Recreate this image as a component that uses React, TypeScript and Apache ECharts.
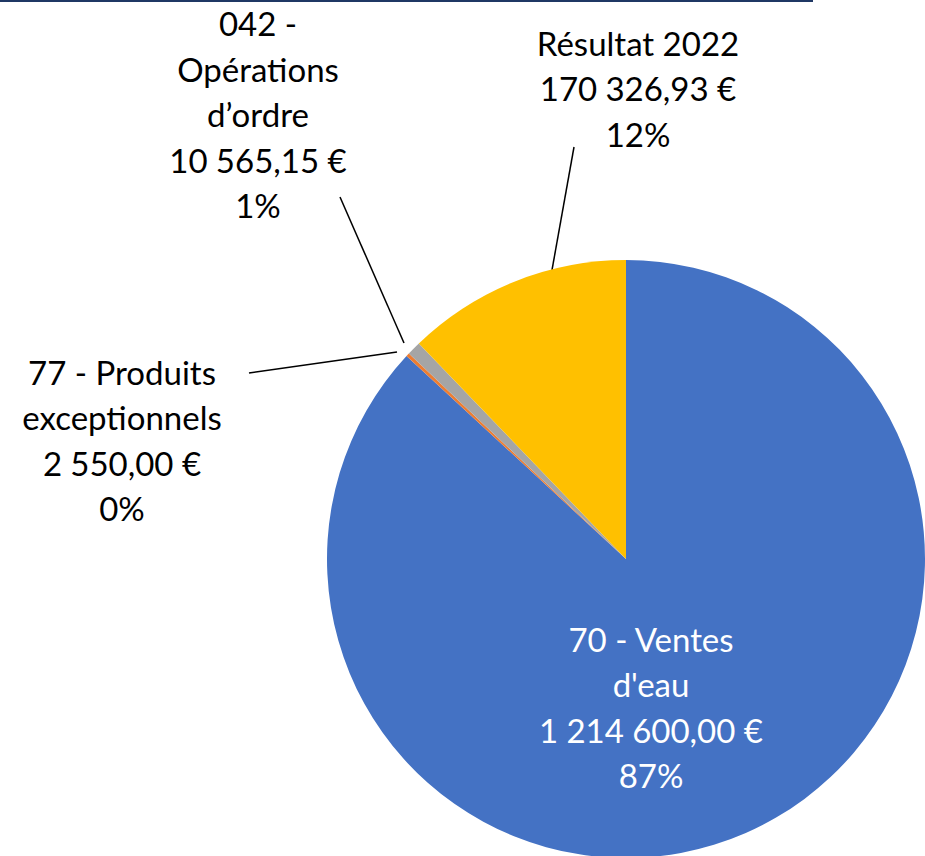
import React, { useEffect, useRef } from "react";
import * as echarts from "echarts";

const categories = [
  "70 - Ventes d'eau",
  "77 - Produits exceptionnels",
  "042 - Opérations d’ordre",
  "Résultat 2022",
];
const wrappedNames = [
  "70 - Ventes\nd'eau",
  "77 - Produits\nexceptionnels",
  "042 -\nOpérations\nd’ordre",
  "Résultat 2022",
];
const values = [1214600.0, 2550.0, 10565.15, 170326.93];
const colors = ["#4472C4", "#ED7D31", "#A5A5A5", "#FFC000"];

// label centres and leader lines (layout only)
const labelPos: [number, number][] = [
  [651, 707],
  [122, 440],
  [258, 114],
  [638, 88],
];
const leaderLines: (number[][] | null)[] = [
  null,
  [[397, 352], [249, 373]],
  [[404, 343], [340, 197]],
  [[552, 270], [574, 147]],
];

function fmtEuro(v: number): string {
  const [intPart, dec] = v.toFixed(2).split(".");
  const grouped = intPart.replace(/\B(?=(\d{3})+(?!\d))/g, "\u202F");
  return grouped + "," + dec + "\u00A0€";
}

export default function App() {
  const ref = useRef<HTMLDivElement>(null);
  useEffect(() => {
    document.body.style.margin = "0";
    if (!ref.current) return;
    const chart = echarts.init(ref.current, null, { renderer: "svg" });
    const font = "Lato, 'Open Sans', sans-serif";
    chart.setOption({
      animation: false,
      backgroundColor: "#ffffff",
      graphic: [
        {
          type: "rect",
          shape: { x: 0, y: 0, width: 813, height: 2 },
          style: { fill: "#1F3864" },
          silent: true,
        },
      ],
      series: [
        {
          type: "pie",
          center: [626, 559],
          radius: 299,
          startAngle: 90,
          clockwise: true,
          avoidLabelOverlap: false,
          minShowLabelAngle: 0,
          data: categories.map((name, i) => ({
            name,
            value: values[i],
            itemStyle: { color: colors[i] },
            label: { color: i === 0 ? "#ffffff" : "#000000" },
            labelLine: { show: i !== 0 },
          })),
          label: {
            show: true,
            position: "outside",
            fontFamily: font,
            fontSize: 33,
            lineHeight: 45.5,
            align: "center",
            formatter: (p: any) =>
              wrappedNames[p.dataIndex] +
              "\n" +
              fmtEuro(p.value) +
              "\n" +
              Math.round(p.percent) +
              "%",
          },
          labelLine: {
            show: true,
            lineStyle: { color: "#000000", width: 1.5 },
          },
          labelLayout: (params: any) => {
            const i = params.dataIndex;
            const out: any = {
              x: labelPos[i][0],
              y: labelPos[i][1],
              align: "center",
              verticalAlign: "middle",
            };
            if (leaderLines[i]) out.labelLinePoints = leaderLines[i];
            return out;
          },
        },
      ],
    });
    return () => chart.dispose();
  }, []);
  return <div ref={ref} style={{ width: 925, height: 856 }} />;
}
